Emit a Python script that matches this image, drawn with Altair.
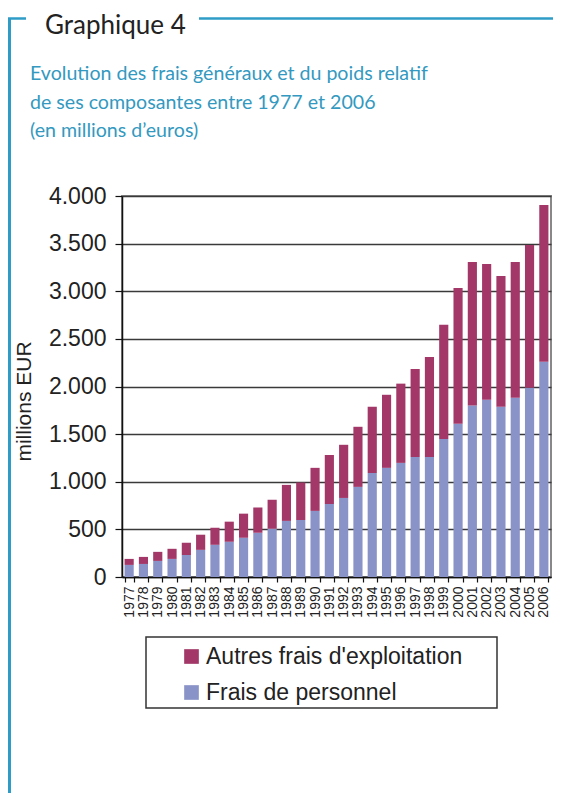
import altair as alt
import pandas as pd

annees = ["1977", "1978", "1979", "1980", "1981", "1982", "1983", "1984", "1985", "1986",
          "1987", "1988", "1989", "1990", "1991", "1992", "1993", "1994", "1995", "1996",
          "1997", "1998", "1999", "2000", "2001", "2002", "2003", "2004", "2005", "2006"]
frais_personnel = [127, 137, 169, 190, 232, 285, 338, 370, 412, 465,
                   507, 589, 599, 694, 767, 830, 946, 1093, 1146, 1198,
                   1261, 1261, 1450, 1610, 1800, 1862, 1787, 1883, 1988, 2259]
autres_frais = [63, 74, 95, 106, 127, 159, 179, 211, 253, 264,
                304, 378, 393, 452, 515, 558, 631, 694, 767, 832,
                924, 1050, 1197, 1425, 1508, 1425, 1374, 1425, 1498, 1647]
series = ["Autres frais d'exploitation", "Frais de personnel"]
couleurs = ["#A23768", "#8A93C8"]
y_ticks = [0, 500, 1000, 1500, 2000, 2500, 3000, 3500, 4000]

titre = "Graphique 4"
sous_titre = ["Evolution des frais généraux et du poids relatif",
              "de ses composantes entre 1977 et 2006",
              "(en millions d\u2019euros)"]

rows = []
for a, p, o in zip(annees, frais_personnel, autres_frais):
    rows.append({"annee": a, "serie": series[1], "valeur": p, "ordre": 0})
    rows.append({"annee": a, "serie": series[0], "valeur": o, "ordre": 1})
df = pd.DataFrame(rows)

FRAME = "#2E9CC6"
one = alt.Data(values=[{}])

bars = alt.Chart(df).mark_bar().encode(
    x=alt.X("annee:N", sort=annees, title=None,
            scale=alt.Scale(paddingInner=0.36, paddingOuter=0.18),
            axis=alt.Axis(labelAngle=-90, labelFontSize=14, labelFont="Liberation Sans",
                          labelColor="#222", labelPadding=4, tickBand="extent",
                          tickSize=5, tickColor="#111", tickWidth=1.2,
                          domainColor="#111", domainWidth=1.5, grid=False)),
    y=alt.Y("valeur:Q", stack="zero",
            scale=alt.Scale(domain=[0, 4000], nice=False),
            axis=alt.Axis(values=y_ticks, title="millions EUR",
                          labelExpr="replace(format(datum.value, ','), ',', '.')",
                          labelFontSize=23, labelFont="Liberation Sans", labelColor="#222",
                          labelPadding=9, tickSize=7, tickColor="#111", tickWidth=1.2,
                          domainColor="#111", domainWidth=1.5,
                          grid=True, gridColor="#3a3a3a", gridWidth=1.6,
                          titleFont="Liberation Sans", titleFontSize=21,
                          titleFontWeight="normal", titleColor="#222",
                          titleX=-98, titleY=205, titleAngle=-90,
                          titleAlign="center", titleBaseline="middle")),
    color=alt.Color("serie:N", scale=alt.Scale(domain=series, range=couleurs),
                    legend=alt.Legend(title=None, orient="none", legendX=58, legendY=449,
                                      symbolType="square", symbolSize=215,
                                      symbolStrokeWidth=0, labelFontSize=23,
                                      labelFont="Liberation Sans", labelColor="#222",
                                      labelOffset=3, rowPadding=12, padding=0,
                                      labelLimit=400)),
    order=alt.Order("ordre:Q", sort="ascending"),
)

legend_box = alt.Chart(one).mark_rect(fill=None, stroke="#333", strokeWidth=1.5).encode(
    x=alt.value(24), x2=alt.value(375), y=alt.value(441), y2=alt.value(512))

frame_v = alt.Chart(one).mark_rule(color=FRAME, strokeWidth=3).encode(
    x=alt.value(-112.5), y=alt.value(-177.5), y2=alt.value(600))
frame_h1 = alt.Chart(one).mark_rule(color=FRAME, strokeWidth=2.5).encode(
    x=alt.value(-114), x2=alt.value(-96), y=alt.value(-177.5))
frame_h2 = alt.Chart(one).mark_rule(color=FRAME, strokeWidth=2.5).encode(
    x=alt.value(77), x2=alt.value(440), y=alt.value(-177.5))

t_titre = alt.Chart(one).mark_text(text=titre, align="left", baseline="alphabetic",
                                   font="Lato", fontSize=26, color="#222").encode(
    x=alt.value(-77), y=alt.value(-162))
t_sous = alt.Chart(one).mark_text(text=sous_titre, align="left", baseline="alphabetic",
                                  font="Lato", fontSize=19.6, color="#3399C0",
                                  lineHeight=28.5).encode(
    x=alt.value(-92), y=alt.value(-116))

chart = alt.layer(bars, legend_box, frame_v, frame_h1, frame_h2, t_titre, t_sous).properties(
    width=429, height=381,
    autosize=alt.AutoSizeParams(type="none"),
    padding={"left": 114, "top": 188, "right": 2, "bottom": 216},
).configure_view(stroke="#888", strokeWidth=2)

chart.save("out.html", embed_options={"renderer": "svg", "actions": False})
